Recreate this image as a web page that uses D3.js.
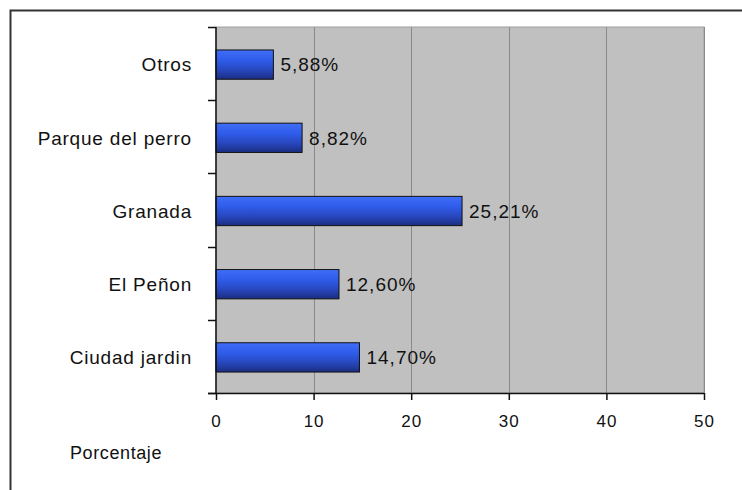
<!DOCTYPE html>
<html>
<head>
<meta charset="utf-8">
<script src="https://cdn.jsdelivr.net/npm/d3@7"></script>
<style>
  body { margin: 0; background: #fff; }
  svg text { font-family: "Liberation Sans", Arial, sans-serif; fill: #111; }
</style>
</head>
<body>
<div id="chart"></div>
<script>
// chart values
const categories = ["Otros", "Parque del perro", "Granada", "El Peñon", "Ciudad jardin"];
const values = [5.88, 8.82, 25.21, 12.6, 14.7];
const valueLabels = ["5,88%", "8,82%", "25,21%", "12,60%", "14,70%"];
const xTicks = [0, 10, 20, 30, 40, 50];
const axisTitle = "Porcentaje";

function drawChart() {
  const width = 742;
  const height = 490;
  const plot = { l: 216, r: 704, t: 27, b: 393 };

  const svg = d3
    .select("#chart")
    .append("svg")
    .attr("width", width)
    .attr("height", height);

  // frame lines (top and left)
  svg
    .append("path")
    .attr("d", `M10.5,${height} L10.5,10.5 L${width},10.5`)
    .attr("fill", "none")
    .attr("stroke", "#333")
    .attr("stroke-width", 2);

  const xScale = d3.scaleLinear().domain([0, 50]).range([plot.l, plot.r]);
  const yScale = d3
    .scaleBand()
    .domain(categories)
    .range([plot.t, plot.b])
    .paddingInner(0.6)
    .paddingOuter(0.3);

  // gradient for bars
  const defs = svg.append("defs");
  const grad = defs
    .append("linearGradient")
    .attr("id", "barGrad")
    .attr("x1", 0)
    .attr("y1", 0)
    .attr("x2", 0)
    .attr("y2", 1);
  grad.append("stop").attr("offset", "0%").attr("stop-color", "#3f6ef8");
  grad.append("stop").attr("offset", "35%").attr("stop-color", "#2f5cea");
  grad.append("stop").attr("offset", "70%").attr("stop-color", "#2746bb");
  grad.append("stop").attr("offset", "100%").attr("stop-color", "#1a2d80");

  // plot background
  svg
    .append("rect")
    .attr("x", plot.l)
    .attr("y", plot.t)
    .attr("width", plot.r - plot.l)
    .attr("height", plot.b - plot.t)
    .attr("fill", "#c0c0c0")
    .attr("stroke", "#a0a0a0");

  // vertical gridlines
  svg
    .append("g")
    .selectAll("line")
    .data(xTicks.slice(1))
    .join("line")
    .attr("x1", (d) => Math.round(xScale(d)) + 0.5)
    .attr("x2", (d) => Math.round(xScale(d)) + 0.5)
    .attr("y1", plot.t)
    .attr("y2", plot.b)
    .attr("stroke", "#8a8a8a")
    .attr("stroke-width", 1);

  // bars
  svg
    .append("g")
    .selectAll("rect")
    .data(categories)
    .join("rect")
    .attr("x", xScale(0))
    .attr("y", (d) => yScale(d) + 1)
    .attr("width", (d, i) => xScale(values[i]) - xScale(0))
    .attr("height", yScale.bandwidth())
    .attr("fill", "url(#barGrad)")
    .attr("stroke", "#111")
    .attr("stroke-width", 1);

  // value labels
  svg
    .append("g")
    .selectAll("text")
    .data(categories)
    .join("text")
    .attr("x", (d, i) => xScale(values[i]) + 7)
    .attr("y", (d) => yScale(d) + 1 + yScale.bandwidth() / 2)
    .attr("dy", "0.36em")
    .attr("font-size", 19)
    .attr("letter-spacing", 1)
    .text((d, i) => valueLabels[i]);

  // x axis
  const xAxis = svg
    .append("g")
    .attr("transform", `translate(0, ${plot.b})`)
    .call(d3.axisBottom(xScale).tickValues(xTicks).tickSize(7).tickPadding(15));
  xAxis.select(".domain").attr("stroke", "#111").attr("stroke-width", 1.5)
    .attr("d", `M${plot.l - 8},0.5H${plot.r}`);
  xAxis.selectAll(".tick line").attr("stroke", "#111").attr("stroke-width", 1.5);
  xAxis
    .selectAll(".tick text")
    .attr("font-size", 17)
    .attr("letter-spacing", 1)
    .attr("font-family", "Liberation Sans, Arial, sans-serif")
    .attr("fill", "#111");

  // y axis: ticks at band boundaries
  const step = (plot.b - plot.t) / categories.length;
  const yBounds = d3.range(categories.length + 1).map((i) => plot.t + i * step);
  const yAxis = svg.append("g");
  yAxis
    .append("line")
    .attr("x1", plot.l)
    .attr("x2", plot.l)
    .attr("y1", plot.t)
    .attr("y2", plot.b)
    .attr("stroke", "#111")
    .attr("stroke-width", 1.5);
  yAxis
    .selectAll(".ytick")
    .data(yBounds)
    .join("line")
    .attr("x1", plot.l - 8)
    .attr("x2", plot.l)
    .attr("y1", (d) => Math.round(d) + 0.5)
    .attr("y2", (d) => Math.round(d) + 0.5)
    .attr("stroke", "#111")
    .attr("stroke-width", 1.5);

  // category labels
  svg
    .append("g")
    .selectAll("text")
    .data(categories)
    .join("text")
    .attr("x", 192)
    .attr("y", (d) => yScale(d) + 1 + yScale.bandwidth() / 2)
    .attr("dy", "0.36em")
    .attr("text-anchor", "end")
    .attr("font-size", 19)
    .attr("letter-spacing", 0.8)
    .text((d) => d);

  // axis title
  svg
    .append("text")
    .attr("x", 70)
    .attr("y", 459)
    .attr("font-size", 18)
    .attr("letter-spacing", 0.6)
    .text(axisTitle);
}

drawChart();
</script>
</body>
</html>
